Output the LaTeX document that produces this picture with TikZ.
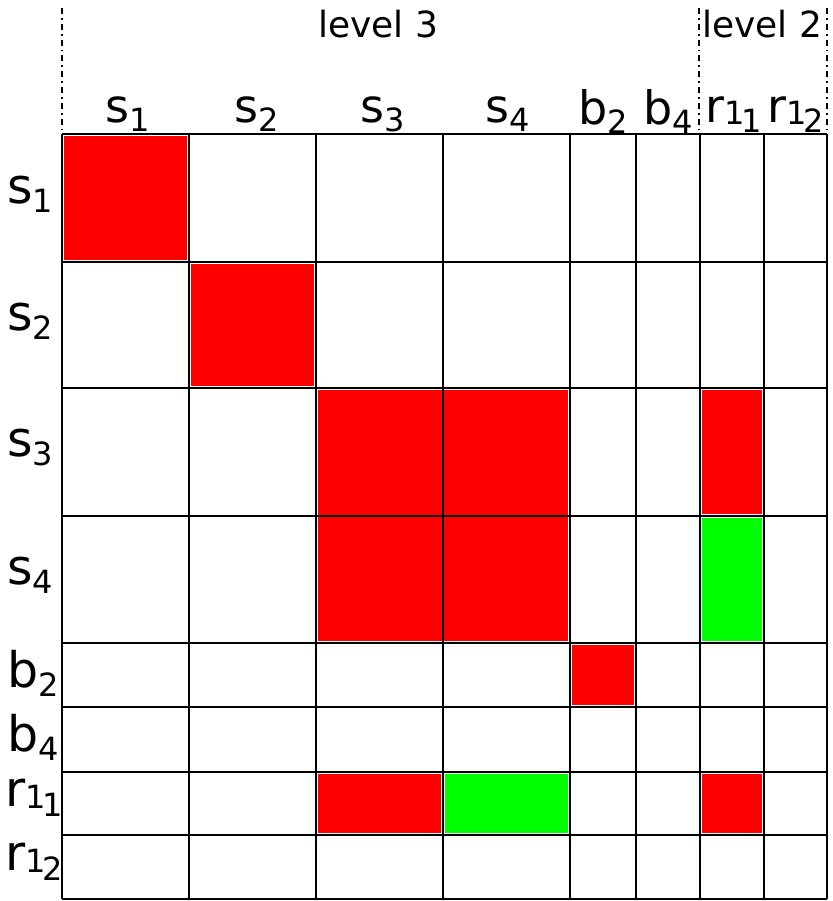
\documentclass[tikz,border=0pt]{standalone}
\usepackage{fontspec}
\setmainfont{DejaVu Sans}
\usepackage{xcolor}
\usetikzlibrary{positioning}

\definecolor{hitred}{RGB}{255,0,0}
\definecolor{hitgreen}{RGB}{0,255,0}

\newcommand{\colfont}{\fontsize{23}{25}\selectfont}
\newcommand{\rowfont}{\fontsize{24.5}{26}\selectfont}
\newcommand{\subfont}{\fontsize{16}{18}\selectfont}
\newcommand{\lab}[2]{#1\raisebox{-4.5pt}{\subfont #2}}
\newcommand{\labb}[3]{#1\raisebox{-1pt}{\subfont #2}\kern-1.5pt\raisebox{-5pt}{\subfont #3}}

\begin{document}
\begin{tikzpicture}[
    x=0.5pt, y=-0.5pt,
    collab/.style={anchor=base, inner sep=0pt, font=\colfont},
    rowlab/.style={anchor=base west, inner sep=0pt, font=\rowfont},
    levellab/.style={anchor=base, inner sep=0pt, font=\fontsize{18}{20}\selectfont},
    grid/.style={line width=1.3pt, black},
    sep/.style={line width=0.9pt, dash dot},
    redcell/.style={fill=hitred},
    greencell/.style={fill=hitgreen}
]
\useasboundingbox (0,0) rectangle (832,901);

% coloured cells
\fill[redcell] (64,136) rectangle (187,260);
\fill[redcell] (191,264) rectangle (314,386);
\fill[redcell] (318,390) rectangle (568,641);
\fill[redcell] (702,390) rectangle (762,514);
\fill[greencell] (702,518) rectangle (762,641);
\fill[redcell] (572,645) rectangle (634,705);
\fill[redcell] (318,774) rectangle (441,833);
\fill[greencell] (445,774) rectangle (568,833);
\fill[redcell] (702,774) rectangle (762,833);

% grid
\foreach \x in {62,189,316,443,570,636,700,764,827}
    \draw[grid] (\x,134) -- (\x,899);
\foreach \y in {134,262,388,516,643,707,772,835,899}
    \draw[grid] (62,\y) -- (827,\y);

% level separators
\foreach \x in {62,699,827}
    \draw[sep] (\x,8) -- (\x,134);
\node[levellab] (lev3) at (378,37) {level 3};
\node[levellab] (lev2) at (762,37) {level 2};

% column labels
\node[collab] (cs1) at (128,122) {\lab{s}{1}};
\node[collab] (cs2) at (257,122) {\lab{s}{2}};
\node[collab] (cs3) at (383,122) {\lab{s}{3}};
\node[collab] (cs4) at (508,122) {\lab{s}{4}};
\node[collab] (cb2) at (603,124) {\lab{b}{2}};
\node[collab] (cb4) at (668,124) {\lab{b}{4}};
\node[collab] (cr11) at (734,122) {\labb{r}{1}{1}};
\node[collab] (cr12) at (796,122) {\labb{r}{1}{2}};

% row labels
\node[rowlab] (rs1) at (7,203) {\lab{s}{1}};
\node[rowlab] (rs2) at (7,330) {\lab{s}{2}};
\node[rowlab] (rs3) at (7,456) {\lab{s}{3}};
\node[rowlab] (rs4) at (7,584) {\lab{s}{4}};
\node[rowlab] (rb2) at (7,687) {\lab{b}{2}};
\node[rowlab] (rb4) at (7,751) {\lab{b}{4}};
\node[rowlab] (rr11) at (5,806) {\labb{r}{1}{1}};
\node[rowlab] (rr12) at (5,870) {\labb{r}{1}{2}};
\end{tikzpicture}
\end{document}
